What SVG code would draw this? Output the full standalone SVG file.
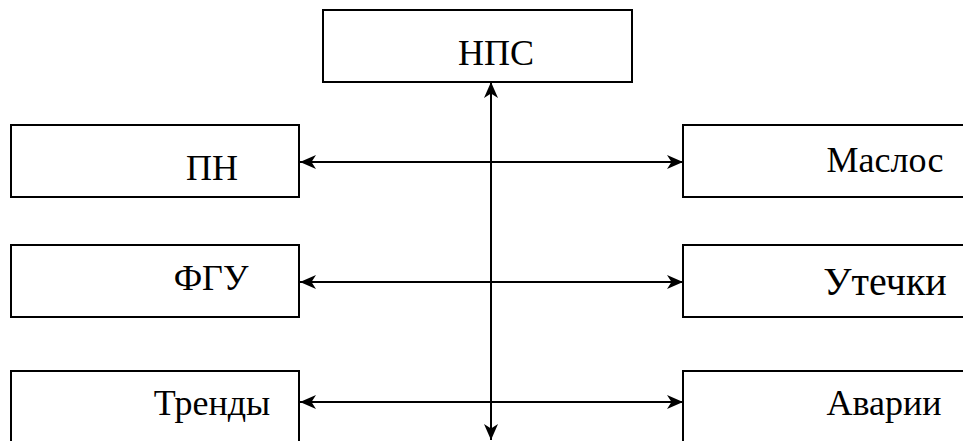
<svg xmlns="http://www.w3.org/2000/svg" width="963" height="441" viewBox="0 0 963 441">
<style>
.box{fill:#fff;stroke:#000;stroke-width:2}
.t{font-family:"Liberation Serif","Times New Roman","DejaVu Serif",serif;font-size:36px;fill:#000;text-anchor:middle}
.c{stroke:#000;stroke-width:2;fill:none;marker-start:url(#a);marker-end:url(#a)}
</style>
<defs>
<marker id="a" viewBox="0 0 16 14" refX="16" refY="7" markerWidth="16" markerHeight="14" markerUnits="userSpaceOnUse" orient="auto-start-reverse">
<path d="M0,0 L16,7 L0,14 L4.5,7 Z" fill="#000"/>
</marker>
</defs>
<rect width="963" height="441" fill="#fff"/>
<g id="nps"><rect class="box" x="323" y="10" width="309" height="72"/><text class="t" font-family="Liberation Serif, serif" x="496" y="65">НПС</text></g>
<g id="pn"><rect class="box" x="11" y="125" width="288" height="72"/><text class="t" x="212" y="180">ПН</text></g>
<g id="maslos"><rect class="box" x="683" y="125" width="300" height="72"/><text class="t" x="885" y="172">Маслос</text></g>
<g id="fgu"><rect class="box" x="11" y="245" width="288" height="72"/><text class="t" x="211" y="290">ФГУ</text></g>
<g id="utechki"><rect class="box" x="683" y="245" width="300" height="72"/><text class="t" x="885" y="295" style="font-size:40px">Утечки</text></g>
<g id="trendy"><rect class="box" x="11" y="371" width="288" height="100"/><text class="t" x="212" y="415">Тренды</text></g>
<g id="avarii"><rect class="box" x="683" y="371" width="300" height="100"/><text class="t" x="884" y="415">Аварии</text></g>
<g id="connectors">
<line class="c" x1="300" y1="162" x2="683" y2="162"/>
<line class="c" x1="300" y1="282" x2="683" y2="282"/>
<line class="c" x1="300" y1="402" x2="683" y2="402"/>
<line class="c" x1="491" y1="82" x2="491" y2="440"/>
</g>
</svg>
